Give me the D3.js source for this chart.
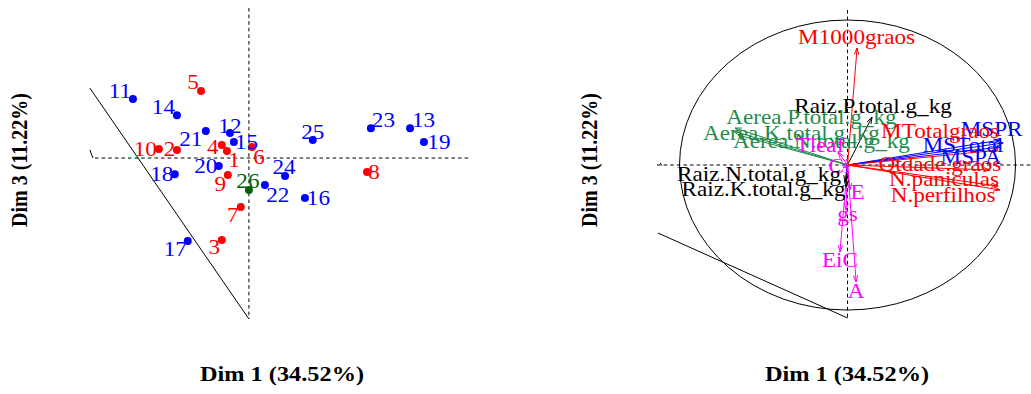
<!DOCTYPE html>
<html>
<head>
<meta charset="utf-8">
<script src="https://cdn.jsdelivr.net/npm/d3@7"></script>
<style>
  html, body { margin: 0; padding: 0; background: #fff; }
  svg { display: block; }
</style>
</head>
<body>
<svg id="chart"></svg>
<script>
// ---- Individuals (factor map, Dim 1 vs Dim 3) ----
const individuals = ["1","2","3","4","5","6","7","8","9","10","11","12","13",
                     "14","15","16","17","18","19","20","21","22","23","24","25","26"];
const indDim1 = [-0.73,-2.39,-0.90,-0.90,-1.59,0.10,-0.27,3.92,-0.70,-2.99,-3.85,-0.63,5.35,
                 -2.39,-0.50,1.86,-2.03,-2.46,5.81,-1.00,-1.43,0.53,4.05,1.20,2.12,0.00];
const indDim3 = [0.27,0.31,-3.15,0.50,2.58,0.42,-1.88,-0.54,-0.65,0.35,2.27,0.96,1.15,
                 1.65,0.62,-1.54,-3.19,-0.62,0.62,-0.31,1.04,-1.04,1.15,-0.69,0.69,-1.23];
const indGroup = ["A","A","A","A","A","A","A","A","A","A","B","B","B",
                  "B","B","B","B","B","B","B","B","B","B","B","B","C"];

// ---- Variables (correlation circle, Dim 1 vs Dim 3) ----
const variables = ["M1000graos","Raiz.P.total.g_kg","Aerea.P.total.g_kg","Aerea.K.total.g_kg",
                   "Aerea.N.total.g_kg","Tleaf","Ci","E","gs","EiC","A",
                   "Raiz.N.total.g_kg","Raiz.K.total.g_kg","MSPR","MSTotal","MSPA",
                   "MTotalgraos","Qtdade.graos","N.paniculas","N.perfilhos"];
const varDim1 = [0.057,0.146,-0.670,-0.682,-0.652,-0.057,-0.027,0.015,-0.009,-0.045,0.051,
                 -0.009,-0.015,0.908,0.926,0.908,0.896,0.848,0.896,0.908];
const varDim3 = [0.807,0.331,0.255,0.234,0.207,0.090,-0.020,-0.172,-0.310,-0.600,-0.807,
                 -0.152,-0.117,0.172,0.152,0.124,0.103,-0.034,-0.145,-0.172];
const varGroup = ["yield","root","shoot","shoot","shoot","gas","gas","gas","gas","gas","gas",
                  "root","root","mass","mass","mass","yield","yield","yield","yield"];

const titleX = "Dim 1 (34.52%)";
const titleY = "Dim 3 (11.22%)";

// ---- Presentation ----
const W = 1031, H = 394;
const SX = 1.1584;              // horizontal stretch of the drawing
const VW = W / SX;              // internal drawing width

const indColor = { A: "#FF0000", B: "#0000FF", C: "#006400" };
const varColor = { yield: "#FF0000", root: "#000000", shoot: "#1F8B4C", gas: "#FF00FF", mass: "#0000FF" };

// label offsets (screen px) relative to each point
const indLabelOffset = [[7,10],[-7.5,0],[-7.5,8],[-9,2],[-8,-8],[7,10],[-8,8.5],[7,0.5],[-7.5,10],
  [-13.5,1],[-13,-7.5],[0,-6.5],[13.5,-8],[-13.5,-8],[12.7,1],[13.5,0.5],[-12.5,9],[-13,0],
  [15,1],[-13,0],[-15,9],[13,10.5],[12.5,-7.5],[-1,-8.5],[0,-7.5],[-1,-8.5]];
const varLabelOffset = [[-0.5,-10],[1,-10],[76.5,-10],[58.5,2],[83.5,7],[-18,-6],[-3.5,-1.3],
  [7.5,2.5],[1.5,5],[0,8.5],[0,10],[-87,-13],[-81.5,7.5],[-8.5,-11],[-40,3],[-29,11],
  [-58,-18.3],[-50,-5],[-54,-6.3],[-57,6]];

const svg = d3.select("#chart")
  .attr("width", W).attr("height", H)
  .attr("viewBox", `0 0 ${VW} ${H}`)
  .attr("preserveAspectRatio", "none");

const font = "'Liberation Serif', 'Times New Roman', serif";

// ---------- Left panel: individuals ----------
const xL = d3.scaleLinear().domain([-5.11, 7.34]).range([95 / SX, 470 / SX]);
const yL = d3.scaleLinear().domain([5.77, -6.19]).range([8, 319]);
const gL = svg.append("g");

function dashed(g, x1, y1, x2, y2) {
  g.append("line").attr("x1", x1).attr("y1", y1).attr("x2", x2).attr("y2", y2)
    .attr("stroke", "#000").attr("stroke-width", 1)
    .attr("stroke-dasharray", "3.6,3").attr("vector-effect", "non-scaling-stroke");
}
function solid(g, x1, y1, x2, y2, color) {
  g.append("line").attr("x1", x1).attr("y1", y1).attr("x2", x2).attr("y2", y2)
    .attr("stroke", color || "#000").attr("stroke-width", 1)
    .attr("vector-effect", "non-scaling-stroke");
}

dashed(gL, xL(-5.11), yL(0), xL(7.34), yL(0));
dashed(gL, xL(0), yL(5.77), xL(0), yL(-6.19));
solid(gL, xL(-5.28), yL(2.69), xL(0), yL(-6.19));
solid(gL, xL(-5.28), yL(0.31), xL(-5.18), yL(0));

individuals.forEach((name, i) => {
  const cx = xL(indDim1[i]), cy = yL(indDim3[i]);
  const c = indColor[indGroup[i]];
  gL.append("ellipse").attr("cx", cx).attr("cy", cy)
    .attr("rx", 4 / SX).attr("ry", 4).attr("fill", c);
  gL.append("text")
    .attr("x", cx + indLabelOffset[i][0] / SX)
    .attr("y", cy + indLabelOffset[i][1])
    .attr("text-anchor", "middle").attr("dominant-baseline", "central")
    .attr("font-family", font).attr("font-size", 20).attr("fill", c)
    .text(name);
});

gL.append("text").attr("x", 282 / SX).attr("y", 381)
  .attr("text-anchor", "middle").attr("font-family", font)
  .attr("font-weight", "bold").attr("font-size", 21).text(titleX);
gL.append("text").attr("transform", `translate(${27 / SX},160) rotate(-90)`)
  .attr("text-anchor", "middle").attr("font-family", font)
  .attr("font-weight", "bold").attr("font-size", 20).text(titleY);

// ---------- Right panel: variables ----------
const xR = d3.scaleLinear().domain([-1.134, 1.092]).range([657 / SX, W / SX]);
const yR = d3.scaleLinear().domain([1.069, -1.055]).range([10, 318]);
const gR = svg.append("g");

dashed(gR, xR(-1.134), yR(0), xR(1.092), yR(0));
dashed(gR, xR(0), yR(1.069), xR(0), yR(-1.055));
gR.append("ellipse").attr("cx", xR(0)).attr("cy", yR(0))
  .attr("rx", xR(1) - xR(0)).attr("ry", yR(-1) - yR(0))
  .attr("fill", "none").attr("stroke", "#000").attr("stroke-width", 1)
  .attr("vector-effect", "non-scaling-stroke");
solid(gR, xR(-1.128), yR(-0.469), xR(0), yR(-1.055));
solid(gR, xR(-1.115), yR(0.014), xR(-1.105), yR(-0.004));

const headLen = 7, headAng = 18 * Math.PI / 180;
variables.forEach((name, i) => {
  const c = varColor[varGroup[i]];
  const x0 = xR(0), y0 = yR(0), x1 = xR(varDim1[i]), y1 = yR(varDim3[i]);
  solid(gR, x0, y0, x1, y1, c);
  // arrow head computed in screen space
  const sx0 = x0 * SX, sx1 = x1 * SX;
  const a = Math.atan2(y1 - y0, sx1 - sx0);
  [a + Math.PI - headAng, a + Math.PI + headAng].forEach(b => {
    solid(gR, x1, y1, (sx1 + headLen * Math.cos(b)) / SX, y1 + headLen * Math.sin(b), c);
  });
});
variables.forEach((name, i) => {
  const c = varColor[varGroup[i]];
  gR.append("text")
    .attr("x", xR(varDim1[i]) + varLabelOffset[i][0] / SX)
    .attr("y", yR(varDim3[i]) + varLabelOffset[i][1])
    .attr("text-anchor", "middle").attr("dominant-baseline", "central")
    .attr("font-family", font).attr("font-size", 20).attr("fill", c)
    .text(name);
});

gR.append("text").attr("x", 847 / SX).attr("y", 381)
  .attr("text-anchor", "middle").attr("font-family", font)
  .attr("font-weight", "bold").attr("font-size", 21).text(titleX);
gR.append("text").attr("transform", `translate(${597 / SX},160) rotate(-90)`)
  .attr("text-anchor", "middle").attr("font-family", font)
  .attr("font-weight", "bold").attr("font-size", 20).text(titleY);
</script>
</body>
</html>
